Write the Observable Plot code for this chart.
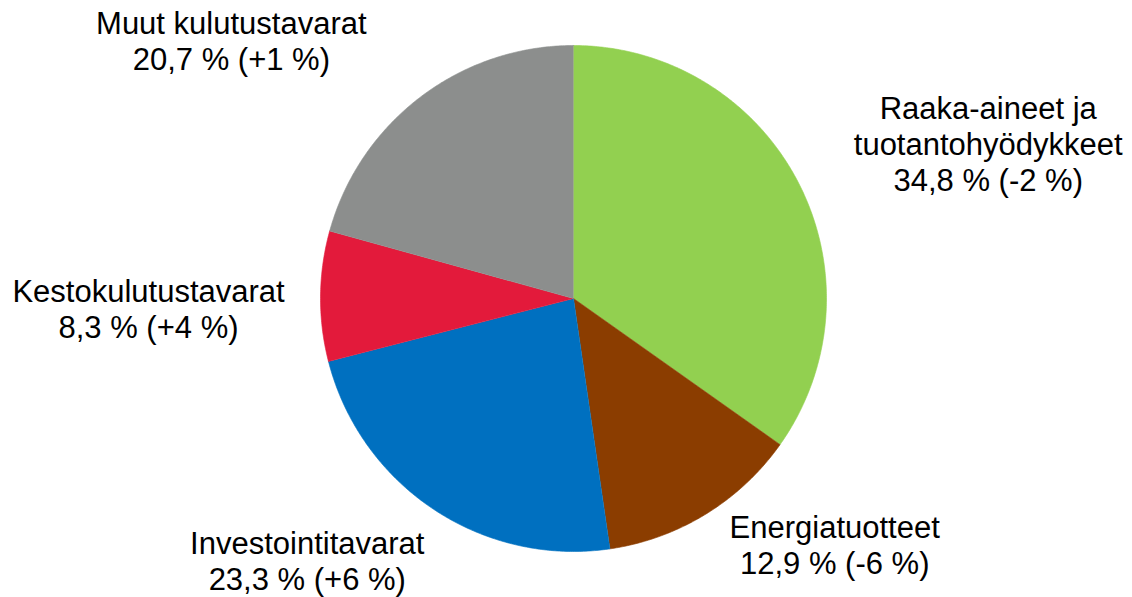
<!DOCTYPE html>
<html>
<head>
<meta charset="utf-8">
<script src="https://cdn.jsdelivr.net/npm/d3@7"></script>
<script src="https://cdn.jsdelivr.net/npm/@observablehq/plot@0.6"></script>
<style>
  html, body { margin: 0; padding: 0; background: #ffffff; }
</style>
</head>
<body>
<div id="chart"></div>
<script>
// ---- data ----
const categories = ["Raaka-aineet ja tuotantohyödykkeet", "Energiatuotteet", "Investointitavarat", "Kestokulutustavarat", "Muut kulutustavarat"];
const labelNames = ["Raaka-aineet ja\ntuotantohyödykkeet", "Energiatuotteet", "Investointitavarat", "Kestokulutustavarat", "Muut kulutustavarat"];
const shares = [34.8, 12.9, 23.3, 8.3, 20.7];
const changes = ["-2", "-6", "+6", "+4", "+1"];
const colors = ["#92d050", "#8b3d00", "#0070c0", "#e31a3b", "#8c8e8d"];

// ---- layout (label offsets from the slice's rim point, in px) ----
const labelOffsets = [[190, -39], [129, 30], [-126, 51], [-172, 12], [-189, -57]];

const W = 1132, H = 597;
const cx = 573, cy = 298, R = 253;

const total = d3.sum(shares);
const slices = [];
const labels = [];
let acc = 0;
shares.forEach((v, i) => {
  const a0 = acc / total * 2 * Math.PI;
  acc += v;
  const a1 = acc / total * 2 * Math.PI;
  slices.push({cat: categories[i], x: 0, y: 0});
  const n = Math.max(2, Math.ceil((a1 - a0) / (Math.PI / 360)));
  for (let k = 0; k <= n; k++) {
    const a = a0 + (a1 - a0) * k / n;
    slices.push({cat: categories[i], x: Math.sin(a), y: Math.cos(a)});
  }
  const am = (a0 + a1) / 2;
  const [ox, oy] = labelOffsets[i];
  labels.push({
    text: `${labelNames[i]}\n${String(v).replace(".", ",")} % (${changes[i]} %)`,
    x: Math.sin(am) + ox / R,
    y: Math.cos(am) - oy / R
  });
});

const chart = Plot.plot({
  width: W,
  height: H,
  marginLeft: cx - R,
  marginRight: W - (cx + R),
  marginTop: cy - R,
  marginBottom: H - (cy + R),
  x: {domain: [-1, 1], axis: null},
  y: {domain: [-1, 1], axis: null},
  color: {domain: categories, range: colors},
  style: {background: "#ffffff", overflow: "visible"},
  marks: [
    Plot.line(slices, {x: "x", y: "y", z: "cat", fill: "cat", stroke: "cat", strokeWidth: 0.6, curve: "linear"}),
    Plot.text(labels, {
      x: "x", y: "y", text: "text",
      fontSize: 31, lineHeight: 1.16,
      fontFamily: "Liberation Sans, Arial, sans-serif",
      fill: "#000000", textAnchor: "middle", lineAnchor: "middle"
    })
  ]
});
document.getElementById("chart").appendChild(chart);
</script>
</body>
</html>
